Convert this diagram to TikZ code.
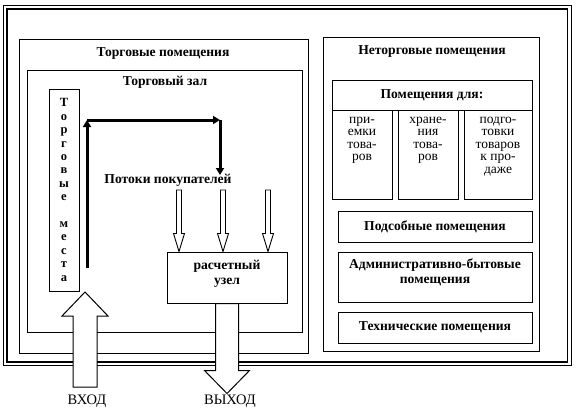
\documentclass[tikz,border=0pt]{standalone}
\usepackage{fontspec}
\setmainfont{Liberation Serif}
\usetikzlibrary{calc}
\usetikzlibrary{arrows.meta}
\tikzset{>={Triangle[width=8pt,length=7pt]}}

\begin{document}
\begin{tikzpicture}
  \begin{scope}[x=1pt,y=-1pt]
    \tikzstyle{rnode} = [draw=black, line width=1pt, rectangle, inner sep=0pt]
    \tikzstyle{hnode} = [font=\bfseries\fontsize{13.6}{15}\selectfont, inner sep=0pt, align=center]
    \tikzstyle{tnode} = [font=\fontsize{13.5}{12.6}\selectfont, inner sep=0pt, align=center, anchor=north]
    \tikzstyle{lnode} = [font=\fontsize{14.5}{14.5}\selectfont, inner sep=0pt]
    \tikzstyle{bigarrow} = [draw=black, line width=1pt, fill=white]
    \tikzstyle{flow} = [draw=black, line width=3pt, ->]

    \useasboundingbox (0,0) rectangle (580,407);

    % outer frame
    \draw[line width=1.6pt] (3.5,5.5) rectangle (571.5,365.5);
    \draw[line width=1.2pt] (7,9) rectangle (567.5,362);

    % trading part
    \node[rnode, minimum width=289pt, minimum height=314pt] (tp) at (163.5,196) {};
    \node[hnode] (tpl) at (163,53) {Торговые помещения};
    \node[rnode, minimum width=275pt, minimum height=262pt] (tz) at (164.5,201) {};
    \node[hnode] (tzl) at (165,82) {Торговый зал};

    \node[rnode, minimum width=30pt, minimum height=202pt,
          font=\bfseries\fontsize{12.5}{13.4}\selectfont, align=center] (tm) at (64,190)
      {Т\\о\\р\\г\\о\\в\\ы\\е\\[13.4pt]м\\е\\с\\т\\а};

    \coordinate (a0) at (87,268);
    \coordinate (a1) at (87,120);
    \coordinate (a2) at (220,120);
    \coordinate (a3) at (220,175);
    \draw[flow] (a0) -- (a1);
    \draw[flow] (a1) -- (a2);
    \draw[flow] (a2) -- (a3);

    \node[hnode] (ptk) at (168,180) {Потоки покупателей};

    \node[rnode, minimum width=120pt, minimum height=51pt] (ru) at (227,277.5) {};
    \node[hnode] (rul) at (227,274) {расчетный\\узел};

    \foreach \x in {179,223,268} {
      \draw[line width=0.9pt, fill=white]
        (\x-2.5,190) -- ($(\x,0 |- ru.north)+(-2.5,-18)$) -- ($(\x,0 |- ru.north)+(-5.5,-18)$)
        -- (\x,0 |- ru.north) -- ($(\x,0 |- ru.north)+(5.5,-18)$) -- ($(\x,0 |- ru.north)+(2.5,-18)$)
        -- (\x+2.5,190) -- cycle;
    }

    % non-trading part
    \node[rnode, minimum width=216pt, minimum height=314pt] (nt) at (431,194) {};
    \node[hnode] (ntl) at (432,51) {Неторговые помещения};
    \node[rnode, hnode, minimum width=200pt, minimum height=30pt] (pd) at (432,95) {Помещения для:};

    \node[rnode, minimum width=60pt, minimum height=89pt] (c1) at (362,154.5) {};
    \node[tnode, yshift=-7pt] (c1l) at (c1.north) {при-\\емки\\това-\\ров};
    \node[rnode, minimum width=60pt, minimum height=89pt] (c2) at (428,154.5) {};
    \node[tnode, yshift=-7pt] (c2l) at (c2.north) {хране-\\ния\\това-\\ров};
    \node[rnode, minimum width=68pt, minimum height=89pt] (c3) at (498,154.5) {};
    \node[tnode, yshift=-7pt] (c3l) at (c3.north) {подго-\\товки\\товаров\\к про-\\даже};

    \node[rnode, hnode, minimum width=194pt, minimum height=31pt] (ps) at (435,226.5) {Подсобные помещения};
    \node[rnode, minimum width=194pt, minimum height=50pt] (ab) at (435,277) {};
    \node[hnode] (abl) at (435,272.5) {Административно-бытовые\\помещения};
    \node[rnode, hnode, minimum width=194pt, minimum height=31pt] (th) at (435,327.5) {Технические помещения};

    % entrance and exit
    \draw[bigarrow] (73,387) -- (73,316) -- (62,316) -- (85,292) -- (108,316) -- (97,316) -- (97,387) -- cycle;
    \draw[bigarrow] ($(ru.south)+(-11.5,0)$) -- ($(ru.south)+(-11.5,67)$) -- ($(ru.south)+(-22.5,67)$)
      -- ($(ru.south)+(0,90)$) -- ($(ru.south)+(22.5,67)$) -- ($(ru.south)+(11.5,67)$)
      -- ($(ru.south)+(11.5,0)$) -- cycle;
    \node[lnode] (vh) at (87,401) {ВХОД};
    \node[lnode] (vyh) at (230,401) {ВЫХОД};
  \end{scope}
\end{tikzpicture}
\end{document}
